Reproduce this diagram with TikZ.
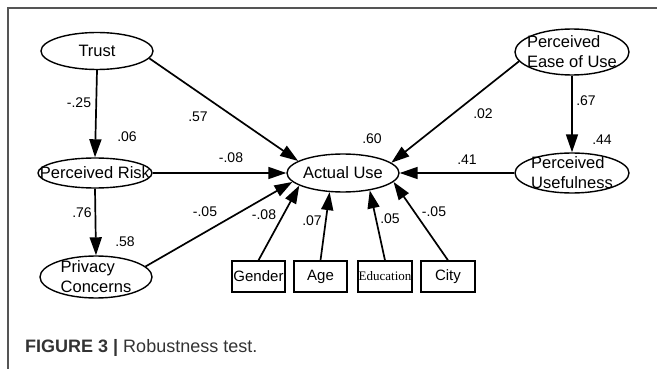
\documentclass[tikz,border=0pt]{standalone}
\usepackage{fontspec}
\setmainfont{Liberation Sans}
\newfontfamily\serifed{Liberation Serif}
\usetikzlibrary{arrows.meta,shapes.geometric}
\definecolor{capgray}{HTML}{333333}
\definecolor{framegray}{HTML}{555555}
\begin{document}
\begin{tikzpicture}[x=1pt,y=-1pt,
 ell/.style={draw, ellipse, line width=1.4pt, inner sep=0pt},
 etext/.style={font=\fontsize{16.5}{20}\selectfont, align=left, inner sep=0pt},
 box/.style={draw, line width=1.4pt, minimum width=53pt, minimum height=31pt, inner sep=0pt, font=\fontsize{15}{17}\selectfont},
 coef/.style={font=\fontsize{14}{16}\selectfont, inner sep=0pt},
 arr/.style={line width=1.7pt, -{Triangle[length=18pt,width=12pt]}}
]
\useasboundingbox (0,0) rectangle (657,369);
\draw[framegray, line width=1.2pt] (8,369) -- (8,8) -- (657,8);

% ellipses
\node[ell, minimum width=112pt, minimum height=37pt] (trust) at (97,51) {};
\node[etext] (trustT) at (trust) {Trust};
\node[ell, minimum width=114pt, minimum height=30pt] (pr) at (95,173) {};
\node[etext] (prT) at (pr) {Perceived Risk};
\node[ell, minimum width=112pt, minimum height=42pt] (pc) at (96,277) {};
\node[etext] (pcT) at (pc) {Privacy\\Concerns};
\node[ell, minimum width=112pt, minimum height=38pt] (au) at (343,173) {};
\node[etext] (auT) at (au) {Actual Use};
\node[ell, minimum width=114pt, minimum height=46pt] (peou) at (572,52) {};
\node[etext] (peouT) at (peou) {Perceived\\Ease of Use};
\node[ell, minimum width=114pt, minimum height=40pt] (pu) at (572,173) {};
\node[etext] (puT) at (pu) {Perceived\\Usefulness};

% boxes
\node[box] (gender) at (258.5,276.5) {Gender};
\node[box] (age) at (320.5,276.5) {Age};
\node[box, minimum width=54pt, font=\serifed\fontsize{13}{15}\selectfont] (edu) at (385,276.5) {Education};
\node[box, minimum width=54pt] (city) at (448,276.5) {City};

% arrows
\draw[arr] (trust.south) -- (pr.north);
\draw[arr] (pr.south) -- (pc.north);
\draw[arr] (trust.-8) -- (au.165);
\draw[arr] (pr.east) -- (au.west);
\draw[arr] (pc.12) -- (au.190);
\draw[arr] (gender.north) -- (au.196);
\draw[arr] (age.north) -- (au.235);
\draw[arr] (edu.north) -- (au.-33);
\draw[arr] (city.north) -- (au.-10);
\draw[arr] (peou.190) -- (au.12);
\draw[arr] (peou.south) -- (pu.north);
\draw[arr] (pu.west) -- (au.east);

% coefficients
\node[coef] (c1) at (79,103) {-.25};
\node[coef] (c2) at (127,137) {.06};
\node[coef] (c3) at (198,117) {.57};
\node[coef] (c4) at (231,158) {-.08};
\node[coef] (c5) at (82,213) {.76};
\node[coef] (c6) at (125,242) {.58};
\node[coef] (c7) at (205,212) {-.05};
\node[coef] (c8) at (264,215) {-.08};
\node[coef] (c9) at (312,221) {.07};
\node[coef] (c10) at (390,219) {.05};
\node[coef] (c11) at (434,212) {-.05};
\node[coef] (c12) at (372,139) {.60};
\node[coef] (c13) at (483,114) {.02};
\node[coef] (c14) at (586,101) {.67};
\node[coef] (c15) at (602,140) {.44};
\node[coef] (c16) at (467,160) {.41};

% caption
\node[anchor=base west, inner sep=0pt, text=capgray, font=\fontsize{18}{20}\selectfont] (cap) at (25,352) {\textbf{FIGURE 3} \textbf{|} Robustness test.};
\end{tikzpicture}
\end{document}
